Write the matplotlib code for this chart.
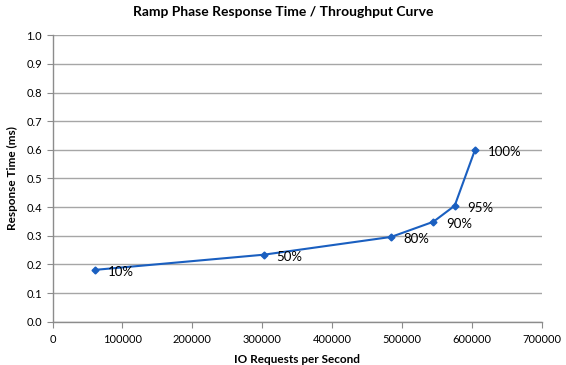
import matplotlib
matplotlib.use("Agg")
import matplotlib.pyplot as plt
from matplotlib.ticker import MultipleLocator, FormatStrFormatter

iops = [61000, 302500, 484600, 545000, 575500, 604700]
resp_ms = [0.181, 0.234, 0.296, 0.349, 0.405, 0.601]
labels = ["10%", "50%", "80%", "90%", "95%", "100%"]

plt.rcParams['font.family'] = ['Lato', 'DejaVu Sans']

fig = plt.figure(figsize=(5.66, 3.65), dpi=100)
ax = fig.add_axes([52.5/566, (365-321.7)/365, (541.7-52.5)/566, (321.7-35.3)/365])

ax.plot(iops, resp_ms, color='#1a5fc0', lw=1.5, marker='D', ms=3.5, zorder=3)
for x, y, t in zip(iops, resp_ms, labels):
    ax.annotate(t, (x, y), xytext=(9, -1.5), textcoords='offset points',
                ha='left', va='center', fontsize=9.5, color='black')

ax.set_xlim(0, 700000)
ax.set_ylim(0, 1.0)
ax.xaxis.set_major_locator(MultipleLocator(100000))
ax.yaxis.set_major_locator(MultipleLocator(0.1))
ax.yaxis.set_major_formatter(FormatStrFormatter('%.1f'))
ax.grid(axis='y', color='#a6a6a6', lw=1.0)
ax.set_axisbelow(True)
for s in ['top', 'right']:
    ax.spines[s].set_visible(False)
for s in ['left', 'bottom']:
    ax.spines[s].set_color('#8c8c8c')
    ax.spines[s].set_linewidth(1.0)
ax.tick_params(axis='both', colors='#8c8c8c', length=4, labelsize=8, labelcolor='black')
ax.tick_params(axis='x', pad=5)

ax.set_xlabel('IO Requests per Second', fontsize=8.5, fontweight='bold', labelpad=6)
ax.set_ylabel('Response Time (ms)', fontsize=8.5, fontweight='bold', labelpad=6)
fig.text(0.5, 1 - 12/365, 'Ramp Phase Response Time / Throughput Curve',
         ha='center', va='center', fontsize=10, fontweight='bold')

fig.savefig('out.png', dpi=100)
